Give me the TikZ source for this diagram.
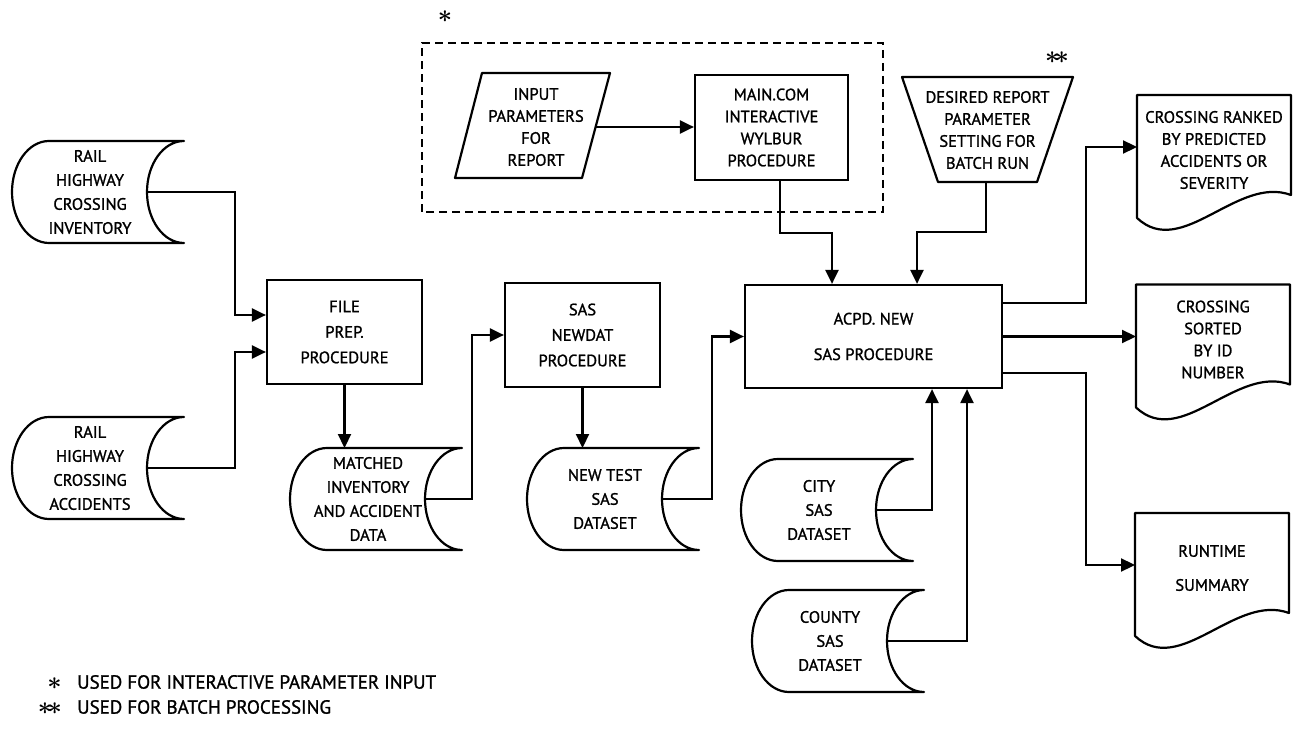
\documentclass[tikz,border=0pt]{standalone}
\usepackage{fontspec}
\setmainfont[FakeBold=1.2]{PT Sans}
\usetikzlibrary{calc}
\usetikzlibrary{arrows.meta}

\begin{document}
\begin{tikzpicture}[x=1pt, y=1pt, >={Triangle[length=14pt,width=13pt]},
  line/.style={line width=2.2pt, line join=round},
  flow/.style={line width=2.2pt, ->},
  caps/.style={align=center, inner sep=0pt, font=\fontsize{16.5}{22}\selectfont},
  store/.style={caps, font=\fontsize{16.5}{24}\selectfont},
  procbox/.style={draw, line width=2.2pt, align=center, inner sep=0pt, minimum width=155pt, minimum height=104pt, font=\fontsize{16.5}{25.5}\selectfont},
  note/.style={inner sep=0pt, font=\fontsize{19}{24}\selectfont},
  star/.style={inner sep=0pt, font=\fontsize{23}{23}\selectfont\boldmath}]
\fill[white] (0,0) rectangle (1298,732);
\useasboundingbox (0,0) rectangle (1298,732);

% interactive input (dashed)
\draw[line width=1.8pt, dash pattern=on 8pt off 5pt] (422,520) rectangle (883,689);
\node[star] (star1) at (445,715) {$\ast$};
\node[caps] (param) at (536,605) {INPUT\\PARAMETERS\\FOR\\REPORT};
\draw[line] (482,659) -- (610,659) -- (582,554) -- (455,554) -- cycle;
\coordinate (param-out) at (596,605);
\node[procbox, caps, minimum width=153pt, minimum height=105pt] (main) at (771.5,604.5) {MAIN.COM\\INTERACTIVE\\WYLBUR\\PROCEDURE};

% batch input
\node[star] (star2) at (1057,674) {$\ast\!\ast$};
\node[caps] (batch) at (987.5,602) {DESIRED REPORT\\PARAMETER\\SETTING FOR\\BATCH RUN};
\draw[line] (902,655) -- (1073,655) -- (1037,550) -- (938,550) -- cycle;
\coordinate (batch-out) at (986,550);

% procedures
\node[procbox] (prep) at (344.5,400) {FILE\\PREP.\\PROCEDURE};
\node[procbox] (newdat) at (582.5,397) {SAS\\NEWDAT\\PROCEDURE};
\node[procbox, minimum width=257pt, minimum height=103pt] (acpd) at (873.5,395.5) {ACPD. NEW\\[10pt]SAS PROCEDURE};

% stored data
\foreach \n/\x/\y/\txt in {
  inv/90/540/{RAIL\\HIGHWAY\\CROSSING\\INVENTORY},
  acc/90/264/{RAIL\\HIGHWAY\\CROSSING\\ACCIDENTS},
  matched/368/233/{MATCHED\\INVENTORY\\AND ACCIDENT\\DATA},
  newtest/605/233/{NEW TEST\\SAS\\DATASET},
  city/819/222/{CITY\\SAS\\DATASET},
  county/830/91/{COUNTY\\SAS\\DATASET}}
{
  \node[store] (\n) at (\x,\y) {\txt};
  \draw[line] (\x-41,\y+51) -- ++(135,0)
    arc[start angle=90, end angle=270, x radius=37pt, y radius=51pt] -- ++(-135,0)
    arc[start angle=270, end angle=90, x radius=37pt, y radius=51pt] -- cycle;
  \coordinate (\n-out) at (\x+57,\y);
  \coordinate (\n-top) at (\x,\y+51);
}

% printed reports
\foreach \n/\x/\y/\txt in {
  rank/1214/582/{CROSSING RANKED\\BY PREDICTED\\ACCIDENTS OR\\SEVERITY},
  sorted/1213/392.5/{CROSSING\\SORTED\\BY ID\\NUMBER},
  runtime/1212/164/{RUNTIME\\[12pt]SUMMARY}}
{
  \node[caps] (\n) at (\x,\y) {\txt};
  \draw[line] (\x-77,\y-68) -- (\x-77,\y+55) -- (\x+77,\y+55) -- (\x+77,\y-45)
    .. controls (\x+23,\y-25) and (\x-32,\y-110) .. (\x-77,\y-68) -- cycle;
  \coordinate (\n-in) at (\x-77,\y+3);
}

% connectors
\draw[flow] (inv-out) -- ++(88,0) |- ([yshift=17pt]prep.west);
\draw[flow] (acc-out) -- ++(88,0) |- ([yshift=-20pt]prep.west);
\draw[flow] (prep.south) -- (prep.south |- matched-top);
\draw[flow] (matched-out) -- ++(47,0) |- (newdat.west);
\draw[flow] (newdat.south) -- (newdat.south |- newtest-top);
\draw[flow] (newtest-out) -- ++(50,0) |- (acpd.west);
\draw[flow] (param-out) -- (param-out -| main.west);
\draw[flow] ([xshift=8.5pt]main.south) -- ++(0,-52) -| ([xshift=-41.5pt]acpd.north);
\draw[flow] (batch-out) -- ++(0,-50) -| ([xshift=43.5pt]acpd.north);
\draw[flow] (city-out) -| ([xshift=58.5pt]acpd.south);
\draw[flow] (county-out) -| ([xshift=93.5pt]acpd.south);
\draw[flow] ([yshift=33.5pt]acpd.east) -- ++(83,0) |- (rank-in);
\draw[flow] (acpd.east) -- (acpd.east -| sorted-in);
\draw[flow] ([yshift=-36.5pt]acpd.east) -- ++(83,0) |- (runtime-in);

% legend
\node[note, anchor=west] (note1) at (77,50) {USED FOR INTERACTIVE PARAMETER INPUT};
\node[note, anchor=west] (note2) at (77,25) {USED FOR BATCH PROCESSING};
\node[star, anchor=east] (key1) at (62,48) {$\ast$};
\node[star, anchor=east] (key2) at (62,23) {$\ast\!\ast$};
\end{tikzpicture}
\end{document}
